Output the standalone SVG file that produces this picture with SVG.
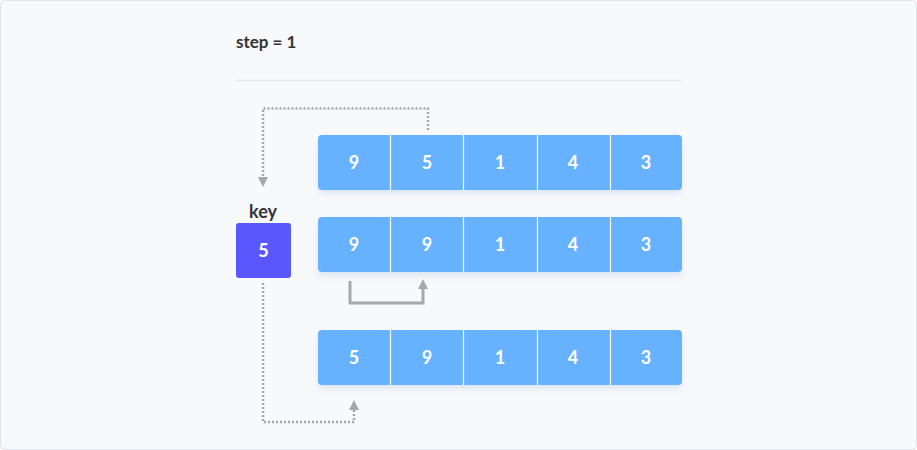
<svg xmlns="http://www.w3.org/2000/svg" width="917" height="450" viewBox="0 0 917 450">
<style>
.cell{fill:#66b2ff}
.div{stroke:#ffffff;stroke-width:1.2}
.num{font-family:Lato,"Liberation Sans",sans-serif;font-weight:bold;font-size:18px;fill:#ffffff;text-anchor:middle}
.dot{fill:none;stroke:#a8a8a8;stroke-width:2.5;stroke-dasharray:2 2}
.solid{fill:none;stroke:#a8a8a8;stroke-width:3}
.lbl{font-family:Lato,"Liberation Sans",sans-serif;font-weight:bold;fill:#333}
</style>
<defs>
<filter id="sh" x="-10%" y="-20%" width="120%" height="150%">
<feDropShadow dx="0" dy="4" stdDeviation="3" flood-color="#6a8fd0" flood-opacity="0.18"/>
</filter>
<marker id="ah" markerWidth="10" markerHeight="10" refX="5" refY="5" orient="auto" markerUnits="userSpaceOnUse">
<path d="M0,0 L10,5 L0,10 z" fill="#a8a8a8"/>
</marker>
</defs>
<rect x="0.5" y="0.5" width="916" height="449" rx="4" fill="#f8f9fb" stroke="#dfe3ea"/>
<text class="lbl" x="236" y="48" font-size="17">step = 1</text>
<line x1="236" y1="80.5" x2="682" y2="80.5" stroke="#e4e6ea" stroke-width="1.5"/>

<g id="row1">
<rect class="cell" x="318" y="135" width="364" height="55" rx="4" filter="url(#sh)"/>
<line class="div" x1="390.5" y1="135" x2="390.5" y2="190"/>
<line class="div" x1="463.5" y1="135" x2="463.5" y2="190"/>
<line class="div" x1="537.5" y1="135" x2="537.5" y2="190"/>
<line class="div" x1="610.5" y1="135" x2="610.5" y2="190"/>
<text class="num" x="354" y="169">9</text>
<text class="num" x="427" y="169">5</text>
<text class="num" x="500" y="169">1</text>
<text class="num" x="573" y="169">4</text>
<text class="num" x="646" y="169">3</text>
</g>
<g id="row2">
<rect class="cell" x="318" y="217" width="364" height="55" rx="4" filter="url(#sh)"/>
<line class="div" x1="390.5" y1="217" x2="390.5" y2="272"/>
<line class="div" x1="463.5" y1="217" x2="463.5" y2="272"/>
<line class="div" x1="537.5" y1="217" x2="537.5" y2="272"/>
<line class="div" x1="610.5" y1="217" x2="610.5" y2="272"/>
<text class="num" x="354" y="251">9</text>
<text class="num" x="427" y="251">9</text>
<text class="num" x="500" y="251">1</text>
<text class="num" x="573" y="251">4</text>
<text class="num" x="646" y="251">3</text>
</g>
<g id="row3">
<rect class="cell" x="318" y="330" width="364" height="55" rx="4" filter="url(#sh)"/>
<line class="div" x1="390.5" y1="330" x2="390.5" y2="385"/>
<line class="div" x1="463.5" y1="330" x2="463.5" y2="385"/>
<line class="div" x1="537.5" y1="330" x2="537.5" y2="385"/>
<line class="div" x1="610.5" y1="330" x2="610.5" y2="385"/>
<text class="num" x="354" y="364">5</text>
<text class="num" x="427" y="364">9</text>
<text class="num" x="500" y="364">1</text>
<text class="num" x="573" y="364">4</text>
<text class="num" x="646" y="364">3</text>
</g>
<g id="key">
<text class="lbl" x="263" y="218" font-size="18" text-anchor="middle">key</text>
<rect x="236" y="223" width="55" height="55" rx="3" fill="#5b57fe"/>
<text class="num" x="263.5" y="257">5</text>
</g>
<g id="connectors">
<path class="dot" d="M428,130 V108.5 H263 V182" marker-end="url(#ah)"/>
<path class="dot" d="M263,283 V422 H354 V405" marker-end="url(#ah)"/>
<path class="solid" d="M350,281 V303 H423 V284" marker-end="url(#ah)"/>
</g>
</svg>
